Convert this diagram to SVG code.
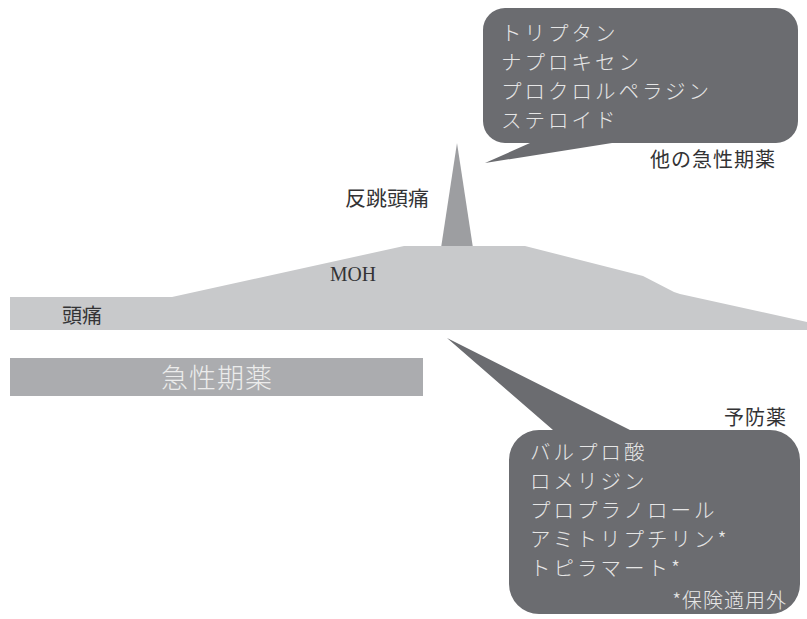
<svg xmlns="http://www.w3.org/2000/svg" width="807" height="619" viewBox="0 0 807 619">
<style>
.jp{font-family:"Noto Sans CJK JP","Noto Sans",sans-serif}
.lbl{font-size:20px;fill:#333335}
.bub{fill:#6b6c70}
.btxt{font-size:20.5px;fill:#e6e6e6;letter-spacing:3px;font-weight:300}
</style>
<rect width="807" height="619" fill="#ffffff"/>
<g id="rebound-spike">
<path d="M441,248 L457,143 L473,248 Z" fill="#9d9ea1"/>
</g>
<g id="headache-band">
<path d="M10,297 L172,297 L404,246 L525,246 L643,276 L674,292 L680,294 L807,322 L807,330 L10,330 Z" fill="#c8c9cb"/>
<text class="jp lbl" x="62" y="323">頭痛</text>
<text x="330" y="281" font-family="Liberation Serif,serif" font-size="20" fill="#333335" textLength="46" lengthAdjust="spacingAndGlyphs">MOH</text>
</g>
<g id="rebound-label">
<text class="jp lbl" x="345" y="206" textLength="84" lengthAdjust="spacingAndGlyphs">反跳頭痛</text>
</g>
<g id="acute-bar">
<rect x="10" y="358" width="413" height="38" fill="#abacaf"/>
<text class="jp" x="217" y="388" font-size="27" fill="#ececec" text-anchor="middle" letter-spacing="1" font-weight="300">急性期薬</text>
</g>
<g id="other-acute-bubble">
<path class="bub" d="M505,8 H776 A22,22 0 0 1 798,30 V121 A22,22 0 0 1 776,143 H612 L485,163 L530,143 H505 A22,22 0 0 1 483,121 V30 A22,22 0 0 1 505,8 Z"/>
<text class="jp btxt" x="501" y="41">トリプタン</text>
<text class="jp btxt" x="501" y="70">ナプロキセン</text>
<text class="jp btxt" x="501" y="99">プロクロルペラジン</text>
<text class="jp btxt" x="501" y="128">ステロイド</text>
<text class="jp lbl" x="776" y="167" text-anchor="end" letter-spacing="1">他の急性期薬</text>
</g>
<g id="preventive-bubble">
<path class="bub" d="M539,430 H553 L447,338 L630,430 H770 A30,30 0 0 1 800,460 V584 A30,30 0 0 1 770,614 H539 A30,30 0 0 1 509,584 V460 A30,30 0 0 1 539,430 Z"/>
<text class="jp lbl" x="787" y="425" text-anchor="end" letter-spacing="1">予防薬</text>
<text class="jp btxt" x="530" y="460">バルプロ酸</text>
<text class="jp btxt" x="530" y="489">ロメリジン</text>
<text class="jp btxt" x="530" y="518">プロプラノロール</text>
<text class="jp btxt" x="530" y="547">アミトリプチリン*</text>
<text class="jp btxt" x="530" y="576">トピラマート*</text>
<text class="jp" x="787" y="608" font-size="20" fill="#e6e6e6" text-anchor="end" letter-spacing="1" font-weight="300">*保険適用外</text>
</g>
</svg>
